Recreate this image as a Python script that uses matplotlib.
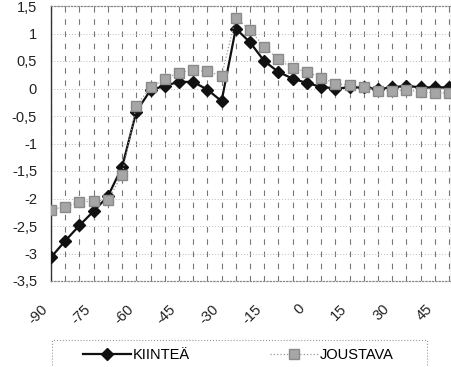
import numpy as np
import matplotlib.pyplot as plt
from matplotlib.patches import Rectangle

plt.rcParams['font.family'] = ['Liberation Sans', 'DejaVu Sans']

# categories every 5 units, from -90 to 50
kulma = list(range(-90, 55, 5))

kiintea = [-3.07, -2.77, -2.49, -2.23, -1.96, -1.43, -0.42, -0.03, 0.05, 0.12, 0.12, -0.02, -0.23,
           1.09, 0.84, 0.50, 0.30, 0.18, 0.10, 0.03, 0.00, 0.02, 0.02, -0.01, 0.02, 0.05, 0.02, 0.02, 0.02]
joustava = [-2.20, -2.15, -2.07, -2.04, -2.03, -1.57, -0.31, 0.02, 0.17, 0.29, 0.33, 0.31, 0.23,
            1.29, 1.06, 0.76, 0.53, 0.37, 0.30, 0.20, 0.09, 0.06, 0.03, -0.04, -0.04, -0.03, -0.06, -0.08, -0.08]

xticks = list(range(-90, 50, 15))
yticks = np.arange(-3.5, 1.6, 0.5)

W, H = 451, 367
fig = plt.figure(figsize=(W / 100, H / 100), dpi=100)
ax = fig.add_axes([51/W, 86/H, 400/W, 275/H])

# grid: dashed verticals at every category, faint dotted horizontals
for x in kulma:
    ax.axvline(x, color='#777777', lw=0.8, ls=(0, (5, 6)), zorder=1)
for y in yticks:
    ax.axhline(y, color='#bbbbbb', lw=0.7, ls=(0, (1, 2)), zorder=1)

ax.plot(kulma, kiintea, color='#111111', lw=1.6, marker='D', markersize=6.5,
        markerfacecolor='#111111', markeredgecolor='#111111', label='KIINTEÄ', zorder=3)
ax.plot(kulma, joustava, color='#9a9a9a', lw=0.9, ls=':', marker='s', markersize=7.5,
        markerfacecolor='#a6a6a6', markeredgecolor='#8a8a8a', label='JOUSTAVA', zorder=4)

ax.set_xlim(-90, 50.7)
ax.set_ylim(-3.5, 1.5)
ax.set_xticks(xticks)
ax.set_xticklabels([str(v) for v in xticks], rotation=45, ha='right', fontsize=10.5, color='#222222')
ax.set_yticks(yticks)
ax.set_yticklabels([('%g' % v).replace('.', ',') for v in yticks], fontsize=10.5, color='#222222')
ax.tick_params(axis='both', length=0)
ax.tick_params(axis='x', pad=15)
ax.tick_params(axis='y', pad=10)

for side in ['top', 'right', 'bottom']:
    ax.spines[side].set_color('#888888')
    ax.spines[side].set_linestyle(':')
    ax.spines[side].set_linewidth(0.9)
ax.spines['left'].set_color('#333333')
ax.spines['left'].set_linewidth(1.0)

# legend box runs off the bottom edge
fig.patches.append(Rectangle((52/W, -6/H), 375/W, (H - 340 + 6)/H, transform=fig.transFigure,
                             fill=False, edgecolor='#999999', lw=0.8, ls=':'))
fig.legend(loc='center', bbox_to_anchor=(238/W, 1 - 355/H), ncol=2,
           fontsize=10.5, frameon=False, handlelength=3.3,
           columnspacing=5.5, handletextpad=0.1)

fig.savefig('out.png', dpi=100)
